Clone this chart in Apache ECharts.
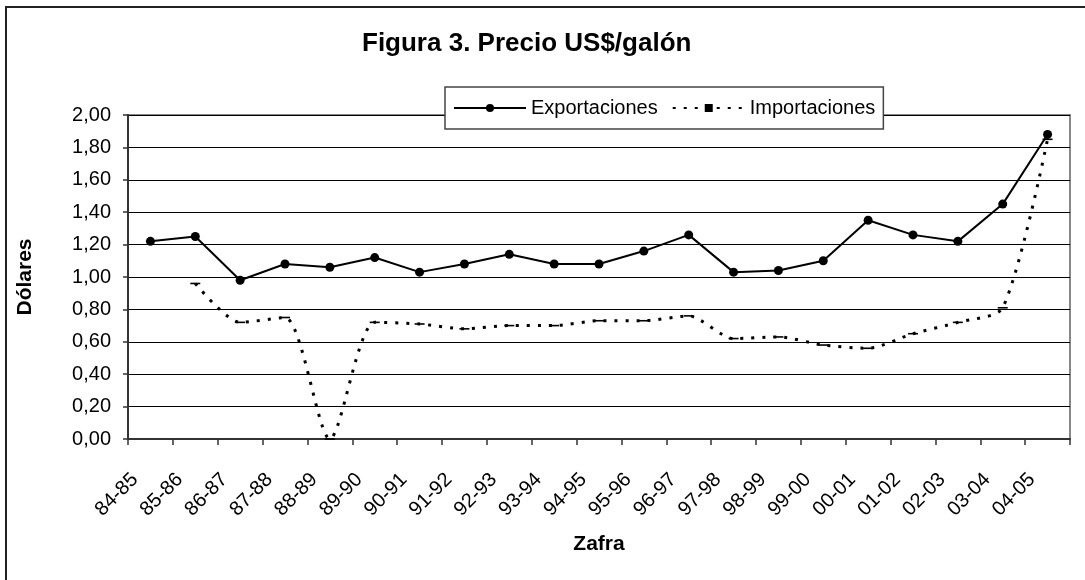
<!DOCTYPE html>
<html>
<head>
<meta charset="utf-8">
<script src="https://cdn.jsdelivr.net/npm/echarts@6/dist/echarts.min.js"></script>
<style>
html,body{margin:0;padding:0;background:#fff;}
#chart{width:1085px;height:580px;}
</style>
</head>
<body>
<div id="chart"></div>
<script>
const categories = ['84-85','85-86','86-87','87-88','88-89','89-90','90-91','91-92','92-93','93-94','94-95','95-96','96-97','97-98','98-99','99-00','00-01','01-02','02-03','03-04','04-05'];
const exportaciones = [1.22,1.25,0.98,1.08,1.06,1.12,1.03,1.08,1.14,1.08,1.08,1.16,1.26,1.03,1.04,1.10,1.35,1.26,1.22,1.45,1.88];
const importaciones = [null,0.96,0.72,0.75,0.00,0.72,0.71,0.68,0.70,0.70,0.73,0.73,0.76,0.62,0.63,0.58,0.56,0.65,0.72,0.81,1.85];
const yTicks = {min:0, max:2, interval:0.2};

const FONT = '"Liberation Sans", Arial, sans-serif';
const chart = echarts.init(document.getElementById('chart'));
chart.setOption({
  animation:false,
  backgroundColor:'#fff',
  textStyle:{fontFamily:FONT, color:'#000'},
  graphic:[{
    type:'rect', shape:{x:6, y:7, width:1200, height:700},
    style:{fill:'none', stroke:'#222', lineWidth:2}, silent:true, z:-1
  }],
  title:{
    text:'Figura 3. Precio US$/galón',
    left:357, top:26,
    textStyle:{fontFamily:FONT, fontSize:26, fontWeight:'bold', color:'#000'}
  },
  legend:{
    left:445, top:87,
    padding:[11,8,11,8],
    itemWidth:72, itemHeight:10, itemGap:14,
    backgroundColor:'#fff', borderColor:'#444', borderWidth:1.5,
    textStyle:{fontFamily:FONT, fontSize:20, color:'#000'},
    data:['Exportaciones','Importaciones'],
    z:10
  },
  grid:{
    left:128, right:15, top:115, bottom:141,
    show:true, borderColor:'#888', borderWidth:2, backgroundColor:'#fff'
  },
  xAxis:{
    type:'category', data:categories, boundaryGap:true,
    name:'Zafra', nameLocation:'middle', nameGap:95,
    nameTextStyle:{fontFamily:FONT, fontSize:21, fontWeight:'bold', color:'#000'},
    axisLine:{lineStyle:{color:'#333', width:2}},
    axisTick:{show:true, length:6, lineStyle:{color:'#333', width:1.5}},
    axisLabel:{rotate:45, interval:0, margin:22, padding:[0,22,0,0], fontFamily:FONT, fontSize:20, color:'#000'},
    splitLine:{show:false}
  },
  yAxis:{
    type:'value', min:yTicks.min, max:yTicks.max, interval:yTicks.interval,
    name:'Dólares', nameLocation:'middle', nameGap:92, nameRotate:90,
    nameTextStyle:{fontFamily:FONT, fontSize:21, fontWeight:'bold', color:'#000'},
    axisLine:{show:true, lineStyle:{color:'#333', width:2}},
    axisTick:{show:true, length:5, lineStyle:{color:'#333', width:1.5}},
    axisLabel:{margin:17, fontFamily:FONT, fontSize:20, color:'#000',
      formatter:v => v.toFixed(2).replace('.', ',')},
    splitLine:{show:true, lineStyle:{color:'#000', width:1}}
  },
  series:[
    {
      name:'Exportaciones', type:'line', data:exportaciones,
      symbol:'circle', symbolSize:9,
      itemStyle:{color:'#000'},
      lineStyle:{color:'#000', width:2}
    },
    {
      name:'Importaciones', type:'line', data:importaciones,
      smooth:0.25,
      symbol:'path://M0,0 H10 V4 H0 Z', symbolSize:[10,4], symbolKeepAspect:true,
      itemStyle:{color:'#000'},
      lineStyle:{color:'#000', width:3, type:[3,8]}
    }
  ]
});
</script>
</body>
</html>
